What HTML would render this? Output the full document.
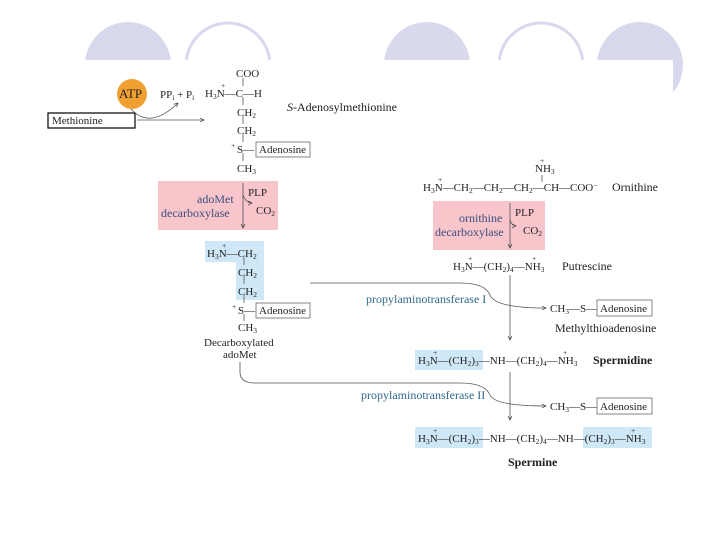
<!DOCTYPE html>
<html><head><meta charset="utf-8"><style>
body{margin:0;background:#fff}
svg{display:block}
text{font-family:"Liberation Serif",serif;font-size:11px;fill:#222}
.b{fill:#3d4f80;font-size:12px}
.p{fill:#2f6a8a;font-size:12px}
.s{font-size:7.5px}
</style></head><body>
<svg width="720" height="540" viewBox="0 0 720 540" xmlns="http://www.w3.org/2000/svg">
<defs><marker id="a" markerWidth="6" markerHeight="6" refX="5" refY="3" orient="auto"><path d="M0,0.5 L5,3 L0,5.5" fill="none" stroke="#333" stroke-width="0.8"/></marker>
<clipPath id="c"><rect x="0" y="0" width="720" height="60"/><rect x="673" y="0" width="47" height="100"/></clipPath></defs>
<g fill="#d9d9ee" clip-path="url(#c)">
<circle cx="128" cy="65" r="43"/>
<circle cx="228" cy="65" r="42" fill="none" stroke="#d9d9ee" stroke-width="3"/>
<circle cx="427" cy="65" r="43"/>
<circle cx="541" cy="65" r="42" fill="none" stroke="#d9d9ee" stroke-width="3"/>
<circle cx="640" cy="65" r="43"/>
</g>
<rect x="158" y="181" width="120" height="49" fill="#f7c5ca"/>
<rect x="433" y="201" width="112" height="49" fill="#f7c5ca"/>
<path d="M205,241 H264 V300 H236 V262 H205 Z" fill="#cfe8f7"/>
<rect x="415" y="350" width="68" height="20" fill="#cfe8f7"/>
<rect x="415" y="427" width="68" height="21" fill="#cfe8f7"/>
<rect x="583" y="427" width="69" height="21" fill="#cfe8f7"/>
<circle cx="132" cy="94" r="15" fill="#f0a030"/>
<text x="119" y="98" style="font-size:13px">ATP</text>
<rect x="48" y="113" width="87" height="15" fill="#fff" stroke="#000" stroke-width="1.2"/>
<text x="52" y="124">Methionine</text>
<g stroke="#555" stroke-width="0.8" fill="none">
<path d="M137,120 H204" marker-end="url(#a)"/>
<path d="M131,109 Q150,130 178,103" marker-end="url(#a)"/>
<path d="M243,78 V86 M243,97 V105 M243,116 V124 M243,134 V142 M243,153 V161"/>
<path d="M244,257 V265 M244,276 V284 M244,295 V303 M244,314 V321"/>
<path d="M510,275 V340" marker-end="url(#a)"/>
<path d="M510,372 V420" marker-end="url(#a)"/>
<path d="M243,183 V228" marker-end="url(#a)"/>
<path d="M510,203 V248" marker-end="url(#a)"/>
<path d="M243,195 Q246,203 252,203" marker-end="url(#a)"/>
<path d="M510,220 Q512,226 516,226" marker-end="url(#a)"/>
<path d="M542,175 V182"/>
<path d="M310,283 H460 Q485,283 490,295 Q495,308 546,308" marker-end="url(#a)"/>
<path d="M240,362 V372 Q240,383 255,383 H460 Q485,383 490,395 Q495,406 546,406" marker-end="url(#a)"/>
</g>
<text x="236" y="77">COO</text>
<text x="205" y="97">H<tspan class="s" dy="2">3</tspan><tspan dy="-2">N—C—H</tspan></text>
<text x="221" y="88" class="s">+</text>
<text x="237" y="116">CH<tspan class="s" dy="2">2</tspan></text>
<text x="237" y="134">CH<tspan class="s" dy="2">2</tspan></text>
<text x="231" y="148" class="s">+</text>
<text x="237" y="153">S—</text>
<rect x="256" y="142" width="54" height="15" fill="#fff" stroke="#666" stroke-width="0.8"/>
<text x="259" y="153">Adenosine</text>
<text x="237" y="172">CH<tspan class="s" dy="2">3</tspan></text>
<text x="287" y="111" style="font-size:12px"><tspan font-style="italic">S</tspan>-Adenosylmethionine</text>
<text x="160" y="98">PP<tspan class="s" dy="2">i</tspan><tspan dy="-2"> + P</tspan><tspan class="s" dy="2">i</tspan></text>
<text x="197" y="203" class="b">adoMet</text>
<text x="161" y="217" class="b">decarboxylase</text>
<text x="248" y="196" font-size="8">PLP</text>
<text x="256" y="214">CO<tspan class="s" dy="2">2</tspan></text>
<text x="207" y="257">H<tspan class="s" dy="2">3</tspan><tspan dy="-2">N—CH</tspan><tspan class="s" dy="2">2</tspan></text>
<text x="222" y="248" class="s">+</text>
<text x="238" y="276">CH<tspan class="s" dy="2">2</tspan></text>
<text x="238" y="295">CH<tspan class="s" dy="2">2</tspan></text>
<text x="232" y="309" class="s">+</text>
<text x="238" y="314">S—</text>
<rect x="256" y="303" width="54" height="15" fill="#fff" stroke="#666" stroke-width="0.8"/>
<text x="259" y="314">Adenosine</text>
<text x="238" y="331">CH<tspan class="s" dy="2">3</tspan></text>
<text x="204" y="346">Decarboxylated</text>
<text x="223" y="358">adoMet</text>
<text x="535" y="172">NH<tspan class="s" dy="2">3</tspan></text>
<text x="540" y="163" class="s">+</text>
<text x="423" y="191">H<tspan class="s" dy="2">3</tspan><tspan dy="-2">N—CH</tspan><tspan class="s" dy="2">2</tspan><tspan dy="-2">—CH</tspan><tspan class="s" dy="2">2</tspan><tspan dy="-2">—CH</tspan><tspan class="s" dy="2">2</tspan><tspan dy="-2">—CH—COO</tspan><tspan class="s" dy="-3">−</tspan></text>
<text x="438" y="182" class="s">+</text>
<text x="612" y="191" style="font-size:12px">Ornithine</text>
<text x="459" y="222" class="b">ornithine</text>
<text x="435" y="236" class="b">decarboxylase</text>
<text x="515" y="216" font-size="8">PLP</text>
<text x="523" y="234">CO<tspan class="s" dy="2">2</tspan></text>
<text x="453" y="270">H<tspan class="s" dy="2">3</tspan><tspan dy="-2">N—(CH</tspan><tspan class="s" dy="2">2</tspan><tspan dy="-2">)</tspan><tspan class="s" dy="2">4</tspan><tspan dy="-2">—NH</tspan><tspan class="s" dy="2">3</tspan></text>
<text x="468" y="261" class="s">+</text><text x="532" y="261" class="s">+</text>
<text x="562" y="270" style="font-size:12px">Putrescine</text>
<text x="366" y="303" class="p">propylaminotransferase I</text>
<text x="550" y="312">CH<tspan class="s" dy="2">3</tspan><tspan dy="-2">—S—</tspan></text>
<rect x="597" y="300" width="55" height="16" fill="#fff" stroke="#666" stroke-width="0.8"/>
<text x="600" y="312">Adenosine</text>
<text x="555" y="332" style="font-size:12px">Methylthioadenosine</text>
<text x="418" y="364">H<tspan class="s" dy="2">3</tspan><tspan dy="-2">N—(CH</tspan><tspan class="s" dy="2">2</tspan><tspan dy="-2">)</tspan><tspan class="s" dy="2">3</tspan><tspan dy="-2">—NH—(CH</tspan><tspan class="s" dy="2">2</tspan><tspan dy="-2">)</tspan><tspan class="s" dy="2">4</tspan><tspan dy="-2">—NH</tspan><tspan class="s" dy="2">3</tspan></text>
<text x="433" y="355" class="s">+</text><text x="563" y="355" class="s">+</text>
<text x="593" y="364" style="font-size:12px;font-weight:bold">Spermidine</text>
<text x="361" y="399" class="p">propylaminotransferase II</text>
<text x="550" y="410">CH<tspan class="s" dy="2">3</tspan><tspan dy="-2">—S—</tspan></text>
<rect x="597" y="398" width="55" height="16" fill="#fff" stroke="#666" stroke-width="0.8"/>
<text x="600" y="410">Adenosine</text>
<text x="418" y="442">H<tspan class="s" dy="2">3</tspan><tspan dy="-2">N—(CH</tspan><tspan class="s" dy="2">2</tspan><tspan dy="-2">)</tspan><tspan class="s" dy="2">3</tspan><tspan dy="-2">—NH—(CH</tspan><tspan class="s" dy="2">2</tspan><tspan dy="-2">)</tspan><tspan class="s" dy="2">4</tspan><tspan dy="-2">—NH—(CH</tspan><tspan class="s" dy="2">2</tspan><tspan dy="-2">)</tspan><tspan class="s" dy="2">3</tspan><tspan dy="-2">—NH</tspan><tspan class="s" dy="2">3</tspan></text>
<text x="433" y="433" class="s">+</text><text x="631" y="433" class="s">+</text>
<text x="508" y="466" style="font-size:12px;font-weight:bold">Spermine</text>
</svg>
</body></html>
